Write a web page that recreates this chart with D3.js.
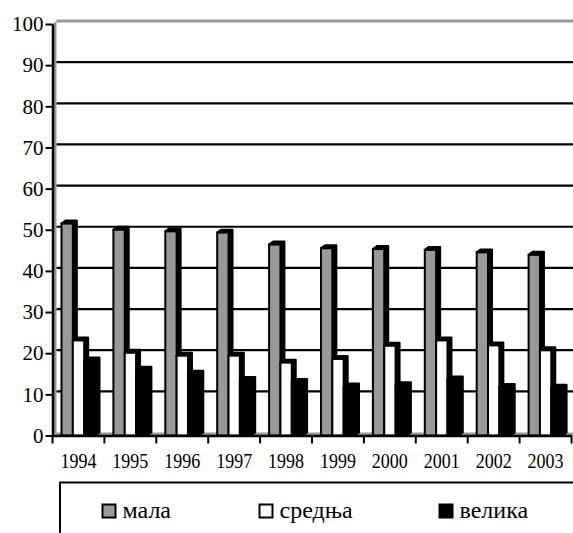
<!DOCTYPE html>
<html>
<head>
<meta charset="utf-8">
<script src="https://cdn.jsdelivr.net/npm/d3@7"></script>
<style>
    body { margin: 0; background: #fff; }
    svg text { font-family: "Times New Roman", "Liberation Serif", "DejaVu Serif", serif !important; }
</style>
</head>
<body>
<div id="container"></div>
<script>
// values
const years = ["1994", "1995", "1996", "1997", "1998", "1999", "2000", "2001", "2002", "2003"];
const seriesNames = ["мала", "средња", "велика"];
const mala = [51.5, 50.0, 49.6, 49.3, 46.4, 45.5, 45.3, 45.1, 44.5, 43.9];
const srednja = [23.1, 20.1, 19.4, 19.4, 17.7, 18.6, 21.8, 23.1, 21.9, 20.7];
const velika = [18.2, 16.0, 15.0, 13.5, 13.0, 11.9, 12.2, 13.6, 11.8, 11.6];
const yTicks = [0, 10, 20, 30, 40, 50, 60, 70, 80, 90, 100];

const colors = ["#999999", "#ffffff", "#000000"];
const values = [mala, srednja, velika];

const width = 573;
const height = 533;
// fake 3D depth of the Excel chart
const dx = 4;
const dy = 3;

const scaleX = d3.scaleBand().domain(years).range([52.5, 571.5]);
const scaleSub = d3.scaleBand().domain(seriesNames).range([9, 43]);
const scaleY = d3.scaleLinear().domain([0, 100]).range([435.5, 24]);

const svg = d3.select("#container")
    .append("svg")
    .attr("width", width)
    .attr("height", height);

const x0 = scaleX.range()[0];
const x1 = scaleX.range()[1];
const yBottom = scaleY(0);
const yTop = scaleY(100);

// left wall and floor (gray)
svg.append("path")
    .attr("d", `M${x0},${yBottom}L${x0},${yTop}L${x0 + dx},${yTop - dy}L${x0 + dx},${yBottom - dy}Z`)
    .attr("fill", "#999999");
svg.append("path")
    .attr("d", `M${x0},${yBottom}L${x1},${yBottom}L${x1 + dx},${yBottom - dy}L${x0 + dx},${yBottom - dy}Z`)
    .attr("fill", "#999999");

// gridlines on the back wall
svg.append("g")
    .selectAll("line")
    .data(yTicks.filter(d => d > 0))
    .join("line")
    .attr("x1", x0 + dx)
    .attr("x2", width)
    .attr("y1", d => scaleY(d) - dy)
    .attr("y2", d => scaleY(d) - dy)
    .attr("stroke", d => d === 100 ? "#999999" : "#000")
    .attr("stroke-width", d => d === 100 ? 3 : 2.2);

// bars
const bars = [];
years.forEach((year, i) => {
    seriesNames.forEach((name, j) => {
        bars.push({year: year, name: name, value: values[j][i], color: colors[j]});
    });
});

const bar = svg.append("g")
    .selectAll("g")
    .data(bars)
    .join("g");

const w = scaleSub.bandwidth();

// top and side faces
bar.append("path")
    .attr("d", d => {
        const bx = scaleX(d.year) + scaleSub(d.name);
        const by = scaleY(d.value);
        return `M${bx},${by}L${bx + dx},${by - dy}L${bx + w + dx},${by - dy}` +
            `L${bx + w + dx},${yBottom - dy}L${bx + w},${yBottom}L${bx + w},${by}Z`;
    })
    .attr("fill", "#000")
    .attr("stroke", "#000")
    .attr("stroke-width", 2)
    .attr("stroke-linejoin", "round");

// front face
bar.append("rect")
    .attr("x", d => scaleX(d.year) + scaleSub(d.name))
    .attr("y", d => scaleY(d.value))
    .attr("width", w)
    .attr("height", d => yBottom - scaleY(d.value))
    .attr("fill", d => d.color)
    .attr("stroke", "#000")
    .attr("stroke-width", 2);

// y axis
const yAxis = svg.append("g")
    .attr("transform", `translate(${x0},0)`)
    .call(d3.axisLeft(scaleY).tickValues(yTicks).tickSize(7).tickPadding(2).tickSizeOuter(0));
yAxis.attr("font-family", null);
yAxis.select(".domain").attr("stroke-width", 2.5);
yAxis.selectAll(".tick line").attr("stroke-width", 2);
yAxis.selectAll("text")
    .attr("font-size", 21)
    .attr("fill", "#000");

// x axis line and category boundary ticks
const xAxis = svg.append("g")
    .attr("transform", `translate(0,${yBottom})`)
    .call(d3.axisBottom(scaleX).tickSize(0).tickPadding(18).tickSizeOuter(0));
xAxis.attr("font-family", null);
xAxis.select(".domain").attr("stroke-width", 2.5);
xAxis.selectAll("text")
    .attr("font-size", 20)
    .attr("fill", "#000")
    .attr("transform", "scale(0.9,1)");

xAxis.append("g")
    .selectAll("line")
    .data(years.map(d => scaleX(d)).concat([x1]))
    .join("line")
    .attr("x1", d => d)
    .attr("x2", d => d)
    .attr("y1", 0)
    .attr("y2", 8)
    .attr("stroke", "#000")
    .attr("stroke-width", 2);

// legend
svg.append("rect")
    .attr("x", 60)
    .attr("y", 482.5)
    .attr("width", 540)
    .attr("height", 100)
    .attr("fill", "none")
    .attr("stroke", "#000")
    .attr("stroke-width", 2);

const legendX = [101.5, 258.5, 438.5];
const legend = svg.append("g")
    .selectAll("g")
    .data(seriesNames)
    .join("g")
    .attr("transform", (d, i) => `translate(${legendX[i]},503.5)`);

legend.append("rect")
    .attr("x", 1)
    .attr("y", 1)
    .attr("width", 13)
    .attr("height", 13)
    .attr("fill", (d, i) => colors[i])
    .attr("stroke", "#000")
    .attr("stroke-width", 2);

legend.append("text")
    .attr("x", 21)
    .attr("y", 14.5)
    .attr("font-size", 24)
    .attr("fill", "#000")
    .text(d => d);
</script>
</body>
</html>
